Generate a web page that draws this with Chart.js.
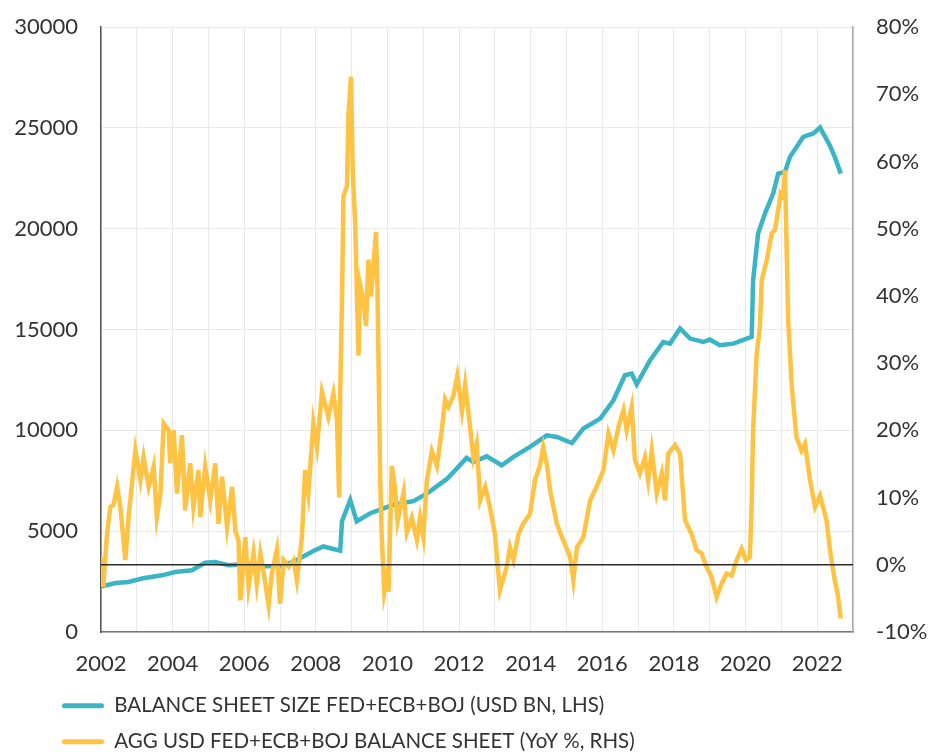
<!DOCTYPE html>
<html>
<head>
<meta charset="utf-8">
<script src="https://cdn.jsdelivr.net/npm/chart.js@4.4.1/dist/chart.umd.min.js"></script>
<style>
  html, body { margin: 0; padding: 0; background: #fff; overflow: hidden; }
  #wrap { position: relative; width: 933px; height: 762px; }
</style>
</head>
<body>
<div id="wrap"><canvas id="chart"></canvas></div>
<script>
// dates are decimal years
const sizeDates = [2002.00, 2002.40, 2002.77, 2003.14, 2003.70, 2004.07, 2004.54, 2004.91, 2005.19, 2005.56,
  2006.03, 2006.49, 2007.05, 2007.47, 2007.93, 2008.21, 2008.68, 2008.73, 2008.96, 2009.14,
  2009.52, 2009.80, 2010.17, 2010.72, 2011.10, 2011.66, 2012.21, 2012.40, 2012.77, 2013.19,
  2013.52, 2013.98, 2014.45, 2014.73, 2015.15, 2015.47, 2015.94, 2016.31, 2016.63, 2016.82,
  2016.96, 2017.33, 2017.70, 2017.89, 2018.17, 2018.45, 2018.82, 2019.00, 2019.28, 2019.66,
  2020.03, 2020.17, 2020.21, 2020.35, 2020.54, 2020.77, 2020.91, 2021.10, 2021.24, 2021.61,
  2021.89, 2022.08, 2022.35, 2022.49, 2022.66];
const sizeValues = [2250, 2430, 2480, 2650, 2810, 2975, 3060, 3440, 3470, 3310,
  3360, 3260, 3270, 3570, 4020, 4240, 4030, 5490, 6550, 5490,
  5890, 6070, 6310, 6490, 6860, 7590, 8630, 8430, 8710, 8270,
  8680, 9180, 9750, 9670, 9370, 10090, 10580, 11490, 12730, 12810,
  12280, 13470, 14380, 14300, 15050, 14550, 14380, 14500, 14220, 14300,
  14550, 14630, 17440, 19760, 20750, 21740, 22730, 22810, 23560, 24550,
  24720, 25010, 24140, 23560, 22730];

const yoyDates = [
  2002.00, 2002.06, 2002.17, 2002.26, 2002.35, 2002.45, 2002.54, 2002.68, 2002.77, 2002.96,
  2003.10, 2003.19, 2003.33, 2003.47, 2003.56, 2003.66, 2003.75, 2003.89, 2003.93,
  2004.03, 2004.12, 2004.26, 2004.35, 2004.49, 2004.58, 2004.72, 2004.77, 2004.91,
  2005.05, 2005.19, 2005.28, 2005.38, 2005.52, 2005.66, 2005.75, 2005.84, 2005.89,
  2006.03, 2006.12, 2006.26, 2006.35, 2006.45, 2006.59, 2006.68, 2006.77, 2006.91,
  2007.00, 2007.10, 2007.24, 2007.38, 2007.47, 2007.61, 2007.70, 2007.79, 2007.93,
  2008.03, 2008.17, 2008.35, 2008.49, 2008.59, 2008.65, 2008.68, 2008.73, 2008.77, 2008.87, 2008.91, 2008.98,
  2009.03, 2009.10, 2009.19, 2009.24, 2009.33, 2009.40, 2009.47, 2009.54, 2009.68, 2009.72, 2009.80, 2009.84, 2009.91, 2009.98,
  2010.03, 2010.12, 2010.21, 2010.28, 2010.45, 2010.54, 2010.68, 2010.82, 2010.91,
  2011.00, 2011.10, 2011.24, 2011.38, 2011.52, 2011.61, 2011.70, 2011.84, 2011.95,
  2012.08, 2012.17, 2012.31, 2012.40, 2012.49, 2012.59, 2012.73, 2012.86,
  2013.00, 2013.14, 2013.33, 2013.42, 2013.52, 2013.66, 2013.79, 2013.98,
  2014.12, 2014.26, 2014.35, 2014.46, 2014.54, 2014.73, 2014.91,
  2015.10, 2015.19, 2015.29, 2015.47, 2015.66, 2015.84,
  2016.03, 2016.17, 2016.31, 2016.45, 2016.59, 2016.68, 2016.82, 2016.91,
  2017.05, 2017.19, 2017.28, 2017.38, 2017.52, 2017.66, 2017.75, 2017.84,
  2018.03, 2018.17, 2018.31, 2018.49, 2018.63, 2018.77, 2018.91,
  2019.05, 2019.19, 2019.33, 2019.47, 2019.61, 2019.75, 2019.89,
  2020.01, 2020.12, 2020.17, 2020.21, 2020.31, 2020.40, 2020.45, 2020.59, 2020.73, 2020.82, 2020.91, 2020.98,
  2021.05, 2021.10, 2021.19, 2021.29, 2021.42, 2021.56, 2021.66, 2021.80, 2021.94,
  2022.08, 2022.26, 2022.37, 2022.49, 2022.57, 2022.66];
const yoyValues = [
  1.2, -3.3, 4.7, 8.6, 8.9, 11.6, 8.6, 0.7, 7.1, 17.0,
  12.6, 16.0, 11.6, 14.6, 7.1, 10.6, 21.0, 20.0, 15.1,
  20.0, 10.6, 19.3, 8.1, 15.1, 8.6, 14.1, 7.1, 14.6,
  9.6, 15.1, 6.1, 13.1, 5.6, 11.6, 5.1, 3.6, -5.3,
  4.1, -3.3, 1.7, -2.8, 1.7, -2.8, -6.0, -1.3, 2.2,
  -5.8, 0.7, -0.3, 0.7, -2.3, 4.1, 14.1, 10.6, 21.0,
  17.5, 25.7, 22.0, 25.5, 21.5, 10.0, 25.7, 39.4, 54.8, 56.4, 66.8, 72.6,
  58.6, 50.4, 31.1, 41.6, 39.4, 35.5, 45.4, 39.9, 49.5, 41.0, 11.9, 4.2, -4.0, -1.8,
  -4.0, 14.7, 11.4, 6.4, 10.8, 4.8, 7.0, 3.7, 7.0,
  4.2, 12.5, 16.9, 14.7, 20.2, 24.6, 23.5, 25.1, 28.1,
  22.9, 26.8, 20.3, 16.0, 18.0, 9.6, 11.6, 8.6,
  4.6, -3.8, -0.3, 2.6, 0.7, 4.6, 6.1, 7.6,
  12.6, 14.8, 17.5, 14.6, 11.1, 6.1, 3.6,
  1.2, -2.3, 2.6, 4.1, 9.6, 11.6,
  14.1, 19.5, 17.0, 20.5, 23.0, 20.0, 23.5, 15.6,
  13.6, 16.0, 12.6, 17.0, 10.6, 13.6, 9.6, 16.5,
  17.8, 16.5, 6.6, 4.6, 2.2, 1.7, -0.3,
  -1.8, -4.8, -2.8, -1.3, -1.6, 0.7, 2.4,
  0.7, 1.2, 9.1, 20.0, 31.4, 35.4, 42.3, 45.3, 49.3, 49.8, 52.8, 55.2,
  54.7, 58.7, 36.4, 26.5, 19.0, 17.0, 18.0, 12.6, 8.6,
  10.3, 6.6, 1.7, -2.3, -4.3, -8.0];

const labelYears = [2002, 2004, 2006, 2008, 2010, 2012, 2014, 2016, 2018, 2020, 2022];

const toPoints = (xs, ys) => xs.map((x, i) => ({ x: x, y: ys[i] }));

const FONT = "Lato, 'Open Sans', sans-serif";
const BLUE = '#3bb5c5';
const YELLOW = '#ffc343';

// keep the tick padding from pushing the plot top down
const noVPad = (s) => { s.paddingTop = 0; s.paddingBottom = 0; };

const zeroLine = {
  id: 'zeroLine',
  afterLayout(chart) {
    // legend rows start a little right of the y labels
    chart.legend.left = 46.5;
  },
  afterDatasetsDraw(chart) {
    const { ctx, chartArea } = chart;
    const y = chart.scales.yRight.getPixelForValue(0);
    ctx.save();
    ctx.strokeStyle = '#2b2b2b';
    ctx.lineWidth = 1.5;
    ctx.beginPath();
    ctx.moveTo(chartArea.left, y);
    ctx.lineTo(chartArea.right, y);
    ctx.stroke();
    ctx.restore();
  }
};

new Chart(document.getElementById('chart'), {
  type: 'line',
  data: {
    datasets: [
      {
        label: 'BALANCE SHEET SIZE FED+ECB+BOJ (USD BN, LHS)',
        data: toPoints(sizeDates, sizeValues),
        borderColor: BLUE,
        backgroundColor: BLUE,
        borderWidth: 4.5,
        pointRadius: 0,
        tension: 0,
        yAxisID: 'yLeft',
        order: 1
      },
      {
        label: 'AGG USD FED+ECB+BOJ BALANCE SHEET (YoY %, RHS)',
        data: toPoints(yoyDates, yoyValues),
        borderColor: YELLOW,
        backgroundColor: YELLOW,
        borderWidth: 4.5,
        pointRadius: 0,
        tension: 0,
        yAxisID: 'yRight',
        order: 0
      }
    ]
  },
  options: {
    responsive: true,
    maintainAspectRatio: false,
    animation: false,
    layout: { padding: { left: 8, right: 0, top: 27, bottom: 0 } },
    scales: {
      x: {
        type: 'linear',
        min: 2002,
        max: 2023,
        afterFit: (s) => { s.height = 48; },
        ticks: {
          stepSize: 1,
          autoSkip: false,
          maxRotation: 0,
          padding: 19,
          color: '#333',
          font: { family: FONT, size: 22 },
          callback: (v) => labelYears.includes(v) ? String(v) : ''
        },
        grid: { color: '#e9e9e9', lineWidth: 1, drawTicks: false },
        border: { color: '#777', width: 1.5 }
      },
      yLeft: {
        position: 'left',
        min: 0,
        max: 30000,
        afterFit: (s) => { s.width = 93; noVPad(s); },
        ticks: {
          stepSize: 5000,
          padding: 23,
          color: '#333',
          font: { family: FONT, size: 22 },
          callback: (v) => String(v)
        },
        grid: { color: '#e9e9e9', lineWidth: 1, drawTicks: false },
        border: { color: '#555', width: 1.5 }
      },
      yRight: {
        position: 'right',
        min: -10,
        max: 80,
        afterFit: (s) => { s.width = 80; noVPad(s); },
        ticks: {
          stepSize: 10,
          padding: 23,
          color: '#333',
          font: { family: FONT, size: 22 },
          callback: (v) => v + '%'
        },
        grid: { drawOnChartArea: false, drawTicks: false },
        border: { color: '#aaa', width: 1.5 }
      }
    },
    plugins: {
      legend: {
        position: 'bottom',
        align: 'start',
        labels: {
          boxWidth: 42,
          boxHeight: 5,
          padding: 15.5,
          color: '#333',
          useBorderRadius: true,
          borderRadius: 2.5,
          font: { family: FONT, size: 20.5 },
          sort: (a, b) => a.datasetIndex - b.datasetIndex,
          generateLabels: (chart) => Chart.defaults.plugins.legend.labels.generateLabels(chart)
            .map((item) => ({ ...item, lineWidth: 0 }))
        }
      },
      tooltip: { enabled: false }
    }
  },
  plugins: [zeroLine]
});
</script>
</body>
</html>
